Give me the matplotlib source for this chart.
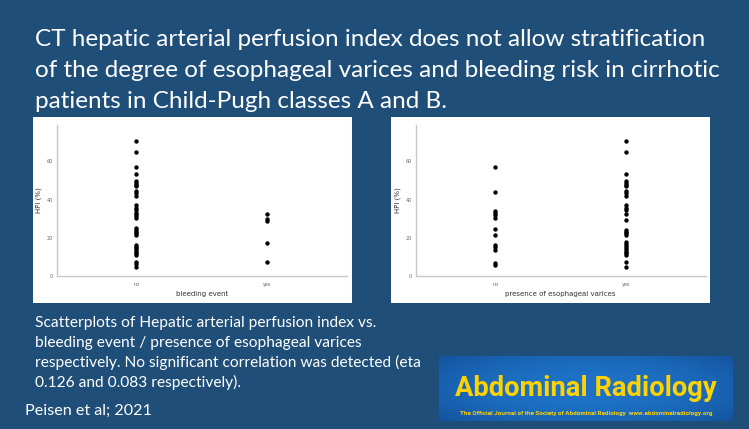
import numpy as np
import matplotlib
matplotlib.use("Agg")
import matplotlib.pyplot as plt
from matplotlib.patches import Rectangle

# ---------------- data ----------------
title_lines = [
    "CT hepatic arterial perfusion index does not allow stratification",
    "of the degree of esophageal varices and bleeding risk in cirrhotic",
    "patients in Child-Pugh classes A and B.",
]
caption_lines = [
    "Scatterplots of Hepatic arterial perfusion index vs.",
    "bleeding event / presence of esophageal varices",
    "respectively. No significant correlation was detected (eta",
    "0.126 and 0.083 respectively).",
]
citation = "Peisen et al; 2021"
logo_title = "Abdominal Radiology"
logo_sub = "The Official Journal of the Society of Abdominal Radiology  www.abdominalradiology.org"
categories = ["no", "yes"]
y_ticks = [0, 20, 40, 60]
y_label = "HPI (%)"

bleeding_no = [70.4, 65.0, 57.0, 53.6, 49.7, 48.7, 47.8, 47.0, 44.3, 43.5, 41.7,
               37.0, 35.8, 34.4, 33.0, 32.2, 31.3, 30.6, 24.9, 24.0, 23.1, 22.3,
               21.4, 16.2, 15.3, 14.4, 13.6, 12.7, 11.8, 11.0, 7.5, 6.3, 4.9]
bleeding_yes = [32.2, 29.7, 28.9, 17.4, 7.1]
varices_no = [57.0, 44.0, 34.1, 33.0, 31.8, 30.6, 24.5, 21.4, 16.2, 15.0, 13.6, 7.0, 5.6]
varices_yes = [70.4, 65.0, 53.6, 49.7, 48.7, 47.8, 47.0, 44.3, 43.5, 41.7, 37.0,
               35.8, 34.4, 32.2, 29.2, 24.0, 23.1, 22.3, 21.4, 17.9, 17.0, 15.7,
               14.4, 13.6, 12.7, 11.8, 11.0, 7.5, 4.7]

# ---------------- figure ----------------
W, H = 749, 429
BG = "#1F4E79"
fig = plt.figure(figsize=(W / 100, H / 100), dpi=100, facecolor=BG)

def fx(px):
    return px / W

def fy(py):
    return 1 - py / H

TFONT = ["Lato", "DejaVu Sans"]

# title
for i, line in enumerate(title_lines):
    fig.text(fx(35), fy(45.7 + i * 31.3), line, color="white", fontsize=17.5,
             family=TFONT, va="baseline", ha="left")

# white panels
for x0 in (33, 391):
    fig.patches.append(Rectangle((fx(x0), fy(303)), fx(319), 186 / H,
                                 transform=fig.transFigure, facecolor="white",
                                 edgecolor="none", zorder=-5))

def scatter_panel(left_px, xlabel, no_vals, yes_vals):
    ax = fig.add_axes([fx(left_px), fy(276), fx(290), 151 / H])
    ax.set_facecolor("white")
    for i, vals in enumerate((no_vals, yes_vals)):
        ax.scatter([i] * len(vals), vals, s=10, color="black", linewidths=0, zorder=3)
    ax.set_xlim(-0.61, 1.61)
    ax.set_ylim(0, 79)
    ax.set_xticks([0, 1])
    ax.set_xticklabels(categories)
    ax.set_yticks(y_ticks)
    ax.tick_params(length=0, labelsize=3.5, colors="#666666")
    ax.tick_params(axis="y", pad=3)
    ax.tick_params(axis="x", pad=4)
    for s in ("top", "right"):
        ax.spines[s].set_visible(False)
    for s in ("left", "bottom"):
        ax.spines[s].set_color("#c8c8c8")
        ax.spines[s].set_linewidth(1.0)
    ax.set_xlabel(xlabel, fontsize=5, color="#333333", labelpad=3)
    ax.set_ylabel(y_label, fontsize=5, color="#333333")
    ax.yaxis.set_label_coords(-0.052, 0.5)
    return ax

scatter_panel(56.7, "bleeding event", bleeding_no, bleeding_yes)
scatter_panel(415.7, "presence of esophageal varices", varices_no, varices_yes)

# caption
for i, line in enumerate(caption_lines):
    fig.text(fx(35), fy(327 + i * 20), line, color="white", fontsize=11.2,
             family=TFONT, va="baseline", ha="left")
fig.text(fx(25), fy(415), citation, color="white", fontsize=11.6,
         family=TFONT, va="baseline", ha="left")

# journal logo
lx0, lx1, ly0, ly1 = 439, 733, 356, 421
lax = fig.add_axes([fx(lx0), fy(ly1), fx(lx1 - lx0), (ly1 - ly0) / H])
gx = np.linspace(-1, 1, 200)
gy = np.linspace(-1, 1, 60)
GX, GY = np.meshgrid(gx, gy)
t = 1 - 0.35 * GX ** 2 - 0.25 * GY ** 2
c_dark = np.array([14, 62, 130]) / 255
c_light = np.array([30, 115, 200]) / 255
img = c_dark[None, None, :] + (c_light - c_dark)[None, None, :] * t[:, :, None]
lax.imshow(np.clip(img, 0, 1), aspect="auto", extent=[0, 1, 0, 1])
lax.set_axis_off()
LOGO_FONT = ["Noto Sans ExtraCondensed", "Noto Sans Condensed", "Roboto", "DejaVu Sans"]
t1 = lax.text(0.5, 0.38, logo_title, color="#FFD200", fontsize=20,
              fontweight="bold", fontstretch="extra-condensed", family=LOGO_FONT,
              ha="center", va="baseline", transform=lax.transAxes)
t2 = lax.text(0.5, 0.09, logo_sub, color="#FFD200", fontsize=4,
              fontweight="bold", fontstretch="extra-condensed", family=LOGO_FONT,
              ha="center", va="baseline", transform=lax.transAxes)

# fit logo texts to their target widths
fig.canvas.draw()
r = fig.canvas.get_renderer()
for txt, target in ((t1, 262), (t2, 247)):
    w = txt.get_window_extent(r).width
    txt.set_fontsize(txt.get_fontsize() * target / w)

fig.savefig("out.png", dpi=100, facecolor=BG)
